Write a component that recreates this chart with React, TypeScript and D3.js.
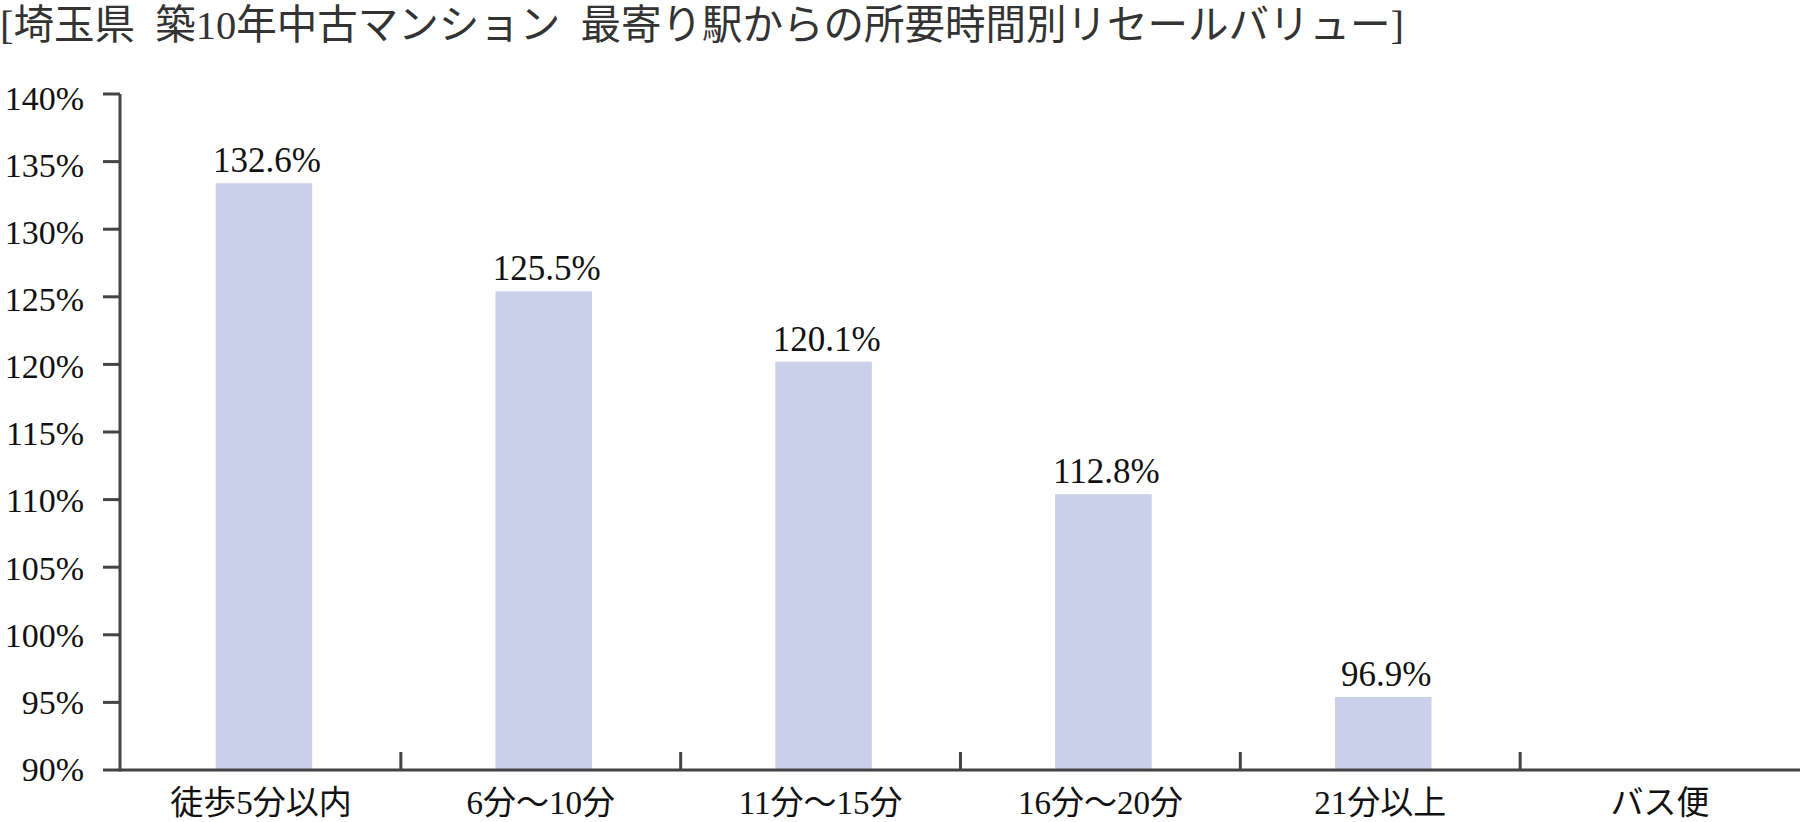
import React, { useRef, useEffect } from "react";
import * as d3 from "d3";

const title = "[埼玉県\u2002築10年中古マンション\u2002最寄り駅からの所要時間別リセールバリュー]";

const categories = ["徒歩5分以内", "6分〜10分", "11分〜15分", "16分〜20分", "21分以上", "バス便"];
// bar heights as drawn in the picture (%)
const barValues = [133.4, 125.4, 120.2, 110.4, 95.4, null];
// labels printed above the bars
const barLabels = ["132.6%", "125.5%", "120.1%", "112.8%", "96.9%", ""];
const yTicks = [90, 95, 100, 105, 110, 115, 120, 125, 130, 135, 140];

const width = 1800,
    height = 822;
const font = '"Liberation Serif", "Noto Sans CJK JP", serif';

const App: React.FC = () => {
    const chartRef = useRef<SVGSVGElement>(null);

    useEffect(() => {
        const svg = d3.select(chartRef.current).attr("width", width).attr("height", height);
        svg.selectAll("*").remove();

        const x = d3.scaleBand<string>().domain(categories).range([121, 1800]).padding(0);
        const y = d3.scaleLinear().domain([90, 140]).range([770, 94]);
        const barW = x.bandwidth() * 0.345;
        const axisColor = "#444";

        // title
        svg.append("text")
            .attr("x", 0)
            .attr("y", 39)
            .text(title)
            .style("font-family", font)
            .style("font-size", "40.5px")
            .style("fill", "#333");

        // bars
        const data = categories.map((c, i) => ({ c, v: barValues[i], label: barLabels[i] }));
        const withBars = data.filter((d) => d.v !== null);

        svg.selectAll(".bar")
            .data(withBars)
            .enter()
            .append("rect")
            .attr("x", (d) => x(d.c)! + x.bandwidth() / 2 - barW / 2 + 3)
            .attr("y", (d) => y(d.v as number))
            .attr("width", barW)
            .attr("height", (d) => y(90) - y(d.v as number))
            .attr("fill", "#cbd0ea");

        svg.selectAll(".val")
            .data(withBars)
            .enter()
            .append("text")
            .attr("x", (d) => x(d.c)! + x.bandwidth() / 2 + 6)
            .attr("y", (d) => y(d.v as number) - 11)
            .attr("text-anchor", "middle")
            .text((d) => d.label)
            .style("font-family", font)
            .style("font-size", "35px")
            .style("fill", "#111");

        // y axis
        svg.append("line")
            .attr("x1", 120)
            .attr("x2", 120)
            .attr("y1", y(140))
            .attr("y2", y(90) + 1.5)
            .attr("stroke", axisColor)
            .attr("stroke-width", 3);

        svg.selectAll(".ytick")
            .data(yTicks)
            .enter()
            .append("line")
            .attr("x1", 103)
            .attr("x2", 120)
            .attr("y1", (d) => y(d))
            .attr("y2", (d) => y(d))
            .attr("stroke", axisColor)
            .attr("stroke-width", 3);

        svg.selectAll(".ylabel")
            .data(yTicks)
            .enter()
            .append("text")
            .attr("x", 84)
            .attr("y", (d) => y(d) + 11 + (d - 90) * 0.09)
            .attr("text-anchor", "end")
            .text((d) => `${d}%`)
            .style("font-family", font)
            .style("font-size", "34px")
            .style("fill", "#111");

        // x axis
        svg.append("line")
            .attr("x1", 120)
            .attr("x2", 1800)
            .attr("y1", y(90))
            .attr("y2", y(90))
            .attr("stroke", axisColor)
            .attr("stroke-width", 3);

        svg.selectAll(".xtick")
            .data(categories.slice(1))
            .enter()
            .append("line")
            .attr("x1", (d) => x(d)!)
            .attr("x2", (d) => x(d)!)
            .attr("y1", y(90) - 18)
            .attr("y2", y(90))
            .attr("stroke", axisColor)
            .attr("stroke-width", 3);

        svg.selectAll(".xlabel")
            .data(categories)
            .enter()
            .append("text")
            .attr("x", (d) => x(d)! + x.bandwidth() / 2)
            .attr("y", 814)
            .attr("text-anchor", "middle")
            .text((d) => d)
            .style("font-family", font)
            .style("font-size", "33px")
            .style("fill", "#111");
    }, []);

    return (
        <svg
            ref={chartRef}
            style={{ position: "absolute", left: 0, top: 0, background: "#fff", display: "block" }}
        ></svg>
    );
};

export default App;
